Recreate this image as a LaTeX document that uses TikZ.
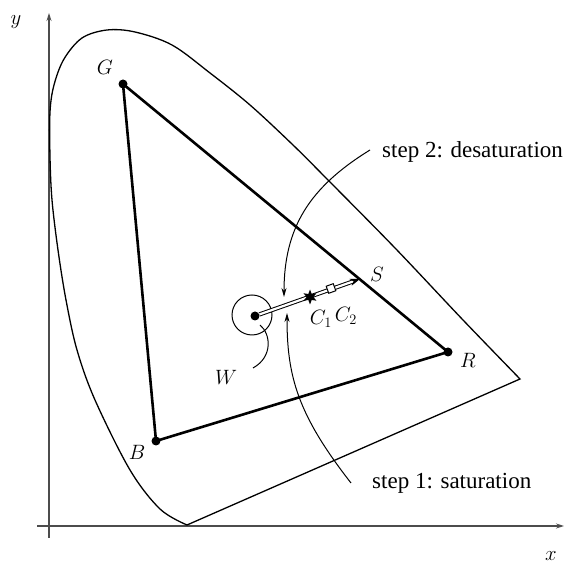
\documentclass[tikz,border=0pt]{standalone}
\usepackage{fontspec}
\setmainfont{Liberation Serif}
\usetikzlibrary{arrows.meta,shapes.geometric}
\begin{document}
\begin{tikzpicture}[x=1pt,y=1pt,
 axis/.style={line width=1.1pt, draw=black!70, -{Stealth[length=8pt,width=5pt]}},
 locus/.style={line width=1.3pt, line join=miter},
 tri/.style={line width=2.6pt, line join=round},
 vdot/.style={circle, fill=black, inner sep=0pt, minimum size=9pt},
 lbl/.style={font=\fontsize{22}{26}\selectfont},
 txt/.style={font=\fontsize{23}{28}\selectfont, anchor=west, inner sep=0pt},
 steparrow/.style={line width=1pt, -{Stealth[length=9pt,width=5pt]}},
]
\useasboundingbox (0,0) rectangle (568,567);
% axes
\coordinate (xs) at (37,41);
\coordinate (xe) at (564,41);
\coordinate (ys) at (49,29);
\coordinate (ye) at (49,554);
\draw[axis] (xs) -- (xe);
\draw[axis] (ys) -- (ye);
\node[lbl] (xl) at (551,11) {$x$};
\node[lbl] (yl) at (16,545) {$y$};
% spectral locus
\draw[locus] plot[smooth, tension=0.55] coordinates {(187,42) (160,58) (130,97) (95,167) (77,217) (66,267) (58,317) (52,367) (50,410) (50,455) (54,482) (64,508) (82,529) (107,537) (135,535) (172,522) (210,494) (250,462) (293,422) (327,388) (395,319) (463,247) (520,188)} -- cycle;
% triangle
\node[vdot] (G) at (123,483) {};
\node[vdot] (R) at (448,215) {};
\node[vdot] (B) at (156,126) {};
\draw[tri] (G.center) -- (R.center) -- (B.center) -- cycle;
\node[lbl] (Gl) at (105,500) {$G$};
\node[lbl] (Rl) at (468,207) {$R$};
\node[lbl] (Bl) at (137,115) {$B$};
% white point
\node[vdot] (W) at (255,251) {};
\node[circle, draw, line width=1pt, minimum size=40pt, inner sep=0pt] (Wc) at (252,252) {};
\coordinate (wp1) at (260,242);
\coordinate (wp2) at (253,199);
\draw[line width=1pt] (wp1) .. controls (271,233) and (273,210) .. (wp2);
\node[lbl] (Wl) at (226,190) {$W$};
% saturation line
\coordinate (S) at (360,288);
\node[lbl] (Sl) at (377,293) {$S$};
\draw[double, double distance=2.2pt, line width=1pt, -{Stealth[length=10pt,width=7pt]}] (W) -- (S);
\node[star, star points=6, star point ratio=2.2, fill=black, inner sep=0pt, minimum size=15pt] (C1) at (310,270) {};
\node[draw, rectangle, minimum size=7.5pt, inner sep=0pt, fill=white, line width=1pt, rotate=20] (C2) at (331,278.5) {};
\node[lbl] (C1l) at (321,248) {$C_1$};
\node[lbl] (C2l) at (346,251) {$C_2$};
% step arrows
\node[txt] (s2) at (382,415) {step 2: desaturation};
\node[txt] (s1) at (372,84) {step 1: saturation};
\coordinate (a2s) at (370,417);
\coordinate (a2e) at (284,270);
\coordinate (a1s) at (351,84);
\coordinate (a1e) at (287,254);
\draw[steparrow] (a2s) .. controls (310,380) and (284,340) .. (a2e);
\draw[steparrow] (a1s) .. controls (298,152) and (287,190) .. (a1e);
\end{tikzpicture}
\end{document}
